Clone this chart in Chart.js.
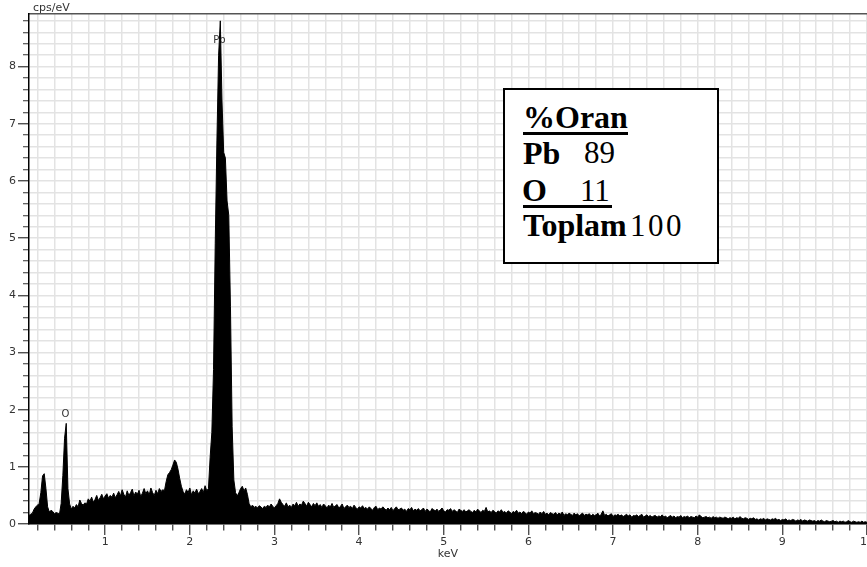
<!DOCTYPE html>
<html><head><meta charset="utf-8">
<script src="https://cdn.jsdelivr.net/npm/chart.js@4/dist/chart.umd.min.js"></script>
<style>
html,body{margin:0;padding:0;background:#fff;overflow:hidden;width:867px;height:567px;}
#wrap{position:relative;width:867px;height:567px;}
canvas{position:absolute;left:0;top:0;}
#box{position:absolute;left:503px;top:88px;width:216px;height:176px;border:2px solid #000;box-sizing:border-box;background:#fff;}
.t{position:absolute;font-family:"Liberation Serif","Times New Roman",serif;font-size:31px;line-height:34px;color:#000;white-space:pre;}
.b{font-weight:bold;font-size:32px;}
.u{position:absolute;background:#000;height:3px;}
</style></head><body>
<div id="wrap">
<canvas id="c" width="867" height="567"></canvas>
<div id="box"></div>
<div class="t b" style="left:523px;top:100px;">%Oran</div>
<div class="u" style="left:523px;top:132px;width:105px;"></div>
<div class="t b" style="left:523px;top:136px;">Pb</div>
<div class="t" style="left:584px;top:136px;">89</div>
<div class="t b" style="left:522px;top:173px;">O</div>
<div class="t" style="left:580px;top:174px;">11</div>
<div class="u" style="left:523px;top:205px;width:89px;"></div>
<div class="t b" style="left:523px;top:208px;">Toplam</div>
<div class="t" style="left:630px;top:209px;letter-spacing:2.5px;">100</div>
</div>
<script>
// Spectrum: counts (cps/eV) sampled every 0.02 keV starting at 0.10 keV
const startKeV = 0.10;
const stepKeV = 0.02;
const counts = [
 0.15,0.17,0.19,0.26,0.30,0.33,0.36,0.55,0.84,0.88,
 0.62,0.30,0.21,0.24,0.22,0.18,0.20,0.19,0.17,0.36,
 0.85,1.50,1.76,0.62,0.35,0.26,0.31,0.28,0.34,0.30,
 0.42,0.36,0.33,0.37,0.35,0.44,0.40,0.47,0.38,0.43,
 0.50,0.41,0.46,0.52,0.44,0.49,0.53,0.45,0.50,0.47,
 0.54,0.46,0.51,0.57,0.49,0.60,0.52,0.47,0.58,0.50,
 0.55,0.61,0.49,0.56,0.52,0.59,0.48,0.54,0.62,0.53,
 0.58,0.51,0.63,0.55,0.50,0.59,0.53,0.62,0.57,0.60,
 0.58,0.74,0.86,0.90,0.95,1.03,1.12,1.08,0.96,0.80,
 0.66,0.57,0.52,0.60,0.55,0.63,0.51,0.58,0.54,0.61,
 0.53,0.57,0.62,0.55,0.67,0.58,0.62,1.17,1.60,2.70,
 4.90,6.70,8.20,8.80,7.40,6.50,6.40,5.65,5.40,3.80,
 1.70,0.77,0.55,0.49,0.55,0.62,0.66,0.58,0.63,0.52,
 0.36,0.30,0.33,0.29,0.31,0.28,0.32,0.30,0.27,0.31,
 0.29,0.33,0.30,0.35,0.31,0.28,0.32,0.36,0.44,0.38,
 0.34,0.31,0.37,0.30,0.33,0.29,0.35,0.32,0.38,0.31,
 0.35,0.33,0.40,0.36,0.31,0.38,0.34,0.30,0.36,0.32,
 0.37,0.31,0.34,0.29,0.35,0.32,0.28,0.33,0.30,0.36,
 0.29,0.32,0.34,0.28,0.31,0.35,0.27,0.30,0.33,0.29,
 0.31,0.27,0.33,0.29,0.26,0.30,0.28,0.32,0.27,0.29,
 0.26,0.30,0.27,0.24,0.29,0.31,0.25,0.28,0.26,0.30,
 0.27,0.24,0.28,0.25,0.29,0.23,0.27,0.30,0.25,0.26,
 0.28,0.24,0.26,0.22,0.27,0.25,0.29,0.23,0.26,0.24,
 0.27,0.23,0.25,0.28,0.22,0.26,0.24,0.21,0.27,0.25,
 0.23,0.26,0.22,0.25,0.28,0.23,0.21,0.25,0.24,0.27,
 0.22,0.25,0.23,0.20,0.26,0.24,0.22,0.25,0.21,0.23,
 0.25,0.22,0.20,0.24,0.21,0.26,0.23,0.20,0.24,0.22,
 0.29,0.21,0.23,0.20,0.24,0.22,0.19,0.23,0.21,0.25,
 0.20,0.22,0.19,0.23,0.21,0.18,0.22,0.20,0.24,0.19,
 0.21,0.18,0.22,0.20,0.17,0.21,0.19,0.23,0.18,0.20,
 0.19,0.17,0.21,0.18,0.22,0.17,0.19,0.16,0.20,0.18,
 0.17,0.20,0.16,0.19,0.17,0.21,0.15,0.18,0.16,0.19,
 0.17,0.15,0.19,0.16,0.18,0.14,0.17,0.19,0.15,0.17,
 0.16,0.18,0.14,0.17,0.15,0.16,0.19,0.14,0.17,0.23,
 0.15,0.17,0.14,0.16,0.18,0.13,0.16,0.15,0.17,0.14,
 0.16,0.13,0.15,0.17,0.14,0.16,0.12,0.15,0.14,0.16,
 0.13,0.15,0.17,0.12,0.14,0.16,0.13,0.15,0.12,0.14,
 0.15,0.12,0.14,0.13,0.16,0.12,0.14,0.11,0.13,0.15,
 0.12,0.14,0.11,0.13,0.12,0.15,0.11,0.13,0.12,0.14,
 0.11,0.13,0.12,0.11,0.14,0.12,0.16,0.13,0.11,0.12,
 0.13,0.11,0.12,0.10,0.13,0.11,0.12,0.10,0.12,0.11,
 0.10,0.12,0.11,0.09,0.11,0.10,0.12,0.09,0.11,0.10,
 0.13,0.10,0.09,0.11,0.10,0.08,0.10,0.09,0.11,0.08,
 0.09,0.07,0.09,0.08,0.10,0.07,0.09,0.08,0.07,0.09,
 0.08,0.10,0.07,0.08,0.06,0.08,0.07,0.09,0.06,0.07,
 0.06,0.08,0.07,0.05,0.07,0.06,0.08,0.05,0.07,0.06,
 0.05,0.07,0.06,0.05,0.06,0.04,0.06,0.05,0.07,0.05,
 0.04,0.06,0.05,0.04,0.05,0.06,0.04,0.05,0.03,0.05,
 0.04,0.05,0.03,0.04,0.06,0.04,0.03,0.05,0.04,0.03,
 0.04,0.03,0.05,0.03,0.04,0.03,0.04,0.03,0.04,0.03
];
const energies = counts.map((_, i) => Math.round((startKeV + i * stepKeV) * 100) / 100);
const xTickLabels = ['1','2','3','4','5','6','7','8','9','10'];
const yTickLabels = ['0','1','2','3','4','5','6','7','8'];
const peakNames = ['O', 'Pb'];
const peakEnergies = [0.53, 2.35];
const peakLabelLevels = [1.91, 8.45];
const xRange = [0.1, 10];
const yRange = [0, 8.92];

const axisColor = '#333';
const isMajor = v => Math.abs(v - Math.round(v)) < 1e-6;
const labelFrom = list => v => (isMajor(v) && list.includes(String(Math.round(v)))) ? String(Math.round(v)) : '';
const tickFont = {family: '"DejaVu Sans", Verdana, sans-serif', size: 11};

const annot = {
  id: 'annot',
  beforeDatasetsDraw(chart) {
    const {ctx, scales: {x, y}} = chart;
    ctx.save();
    ctx.font = '10px "DejaVu Sans", sans-serif';
    ctx.fillStyle = axisColor;
    ctx.textAlign = 'center';
    ctx.textBaseline = 'middle';
    peakNames.forEach((n, i) => ctx.fillText(n, x.getPixelForValue(peakEnergies[i]), y.getPixelForValue(peakLabelLevels[i])));
    ctx.restore();
  },
  afterDraw(chart) {
    const {ctx, chartArea} = chart;
    ctx.save();
    ctx.font = '11px "DejaVu Sans", sans-serif';
    ctx.fillStyle = axisColor;
    ctx.textAlign = 'left';
    ctx.textBaseline = 'middle';
    ctx.fillText('cps/eV', chartArea.left + 4, 8);
    ctx.restore();
  }
};

const gridCommon = {
  color: '#e3e3e3', lineWidth: 1.5, tickLength: 11, tickColor: '#333', tickWidth: 1.2
};

new Chart(document.getElementById('c'), {
  type: 'line',
  data: {
    datasets: [{
      data: energies.map((e, i) => ({x: e, y: counts[i]})),
      borderColor: '#000', backgroundColor: '#000', borderWidth: 1,
      fill: 'origin', pointRadius: 0, tension: 0
    }]
  },
  options: {
    responsive: false, animation: false, devicePixelRatio: 1,
    layout: {padding: {top: 14, left: 0, right: 0, bottom: 0}},
    plugins: {legend: {display: false}, tooltip: {enabled: false}},
    scales: {
      x: {
        type: 'linear', position: 'bottom', min: xRange[0], max: xRange[1],
        ticks: {stepSize: 0.2, includeBounds: false, autoSkip: false, maxRotation: 0, padding: 1,
                color: axisColor, font: tickFont, callback: labelFrom(xTickLabels)},
        grid: Object.assign({}, gridCommon, {tickBorderDash: c => isMajor(c.tick.value) ? [] : [6, 100]}),
        border: {display: true, color: '#000', width: 1.5},
        title: {display: true, text: 'keV', color: axisColor, font: tickFont, padding: {top: 0, bottom: 6.4}},
        afterFit: s => { s.height = 43; s.paddingLeft = 0; s.paddingRight = 0; }
      },
      x2: {
        type: 'linear', position: 'top', min: xRange[0], max: xRange[1],
        ticks: {display: false}, grid: {display: false, drawTicks: false},
        border: {display: true, color: '#555', width: 1.5},
        afterFit: s => { s.height = 0; s.paddingLeft = 0; s.paddingRight = 0; }
      },
      y: {
        type: 'linear', position: 'left', min: yRange[0], max: yRange[1],
        ticks: {stepSize: 0.2, includeBounds: false, autoSkip: false, padding: 2,
                color: axisColor, font: tickFont, callback: labelFrom(yTickLabels)},
        grid: Object.assign({}, gridCommon, {tickBorderDash: c => isMajor(c.tick.value) ? [] : [0, 5, 6, 100]}),
        border: {display: true, color: '#000', width: 1.5},
        afterFit: s => { s.width = 29; s.paddingTop = 0; s.paddingBottom = 0; }
      }
    }
  },
  plugins: [annot]
});
</script>
</body></html>
